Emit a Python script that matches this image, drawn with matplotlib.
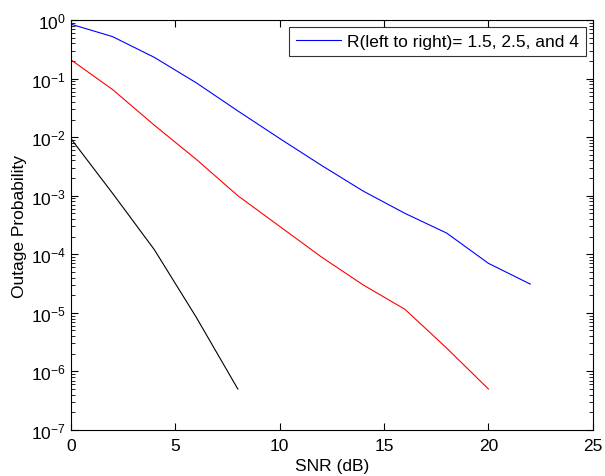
import matplotlib
matplotlib.use('agg')
import matplotlib.pyplot as plt
import numpy as np

snr_blue = [0, 2, 4, 6, 8, 10, 12, 14, 16, 18, 20, 22]
p_blue = [0.85, 0.52, 0.23, 0.085, 0.028, 0.0095, 0.0033, 0.0012, 0.0005, 0.00023, 0.00007, 0.000031]
snr_red = [0, 2, 4, 6, 8, 10, 12, 14, 16, 18, 20]
p_red = [0.21, 0.065, 0.016, 0.0042, 0.001, 0.0003, 0.00009, 0.00003, 0.0000115, 0.0000025, 0.0000005]
snr_black = [0, 2, 4, 6, 8]
p_black = [0.0095, 0.0011, 0.00012, 0.0000085, 0.0000005]

plt.rcParams['font.family'] = ['Liberation Sans', 'DejaVu Sans']
plt.rcParams['font.size'] = 12.5
plt.rcParams['mathtext.fontset'] = 'custom'
plt.rcParams['mathtext.rm'] = 'Liberation Sans'
plt.rcParams['mathtext.it'] = 'Liberation Sans'

fig = plt.figure(figsize=(6.05, 4.77), dpi=100)
ax = fig.add_axes([0.117, 0.0964, 0.863, 0.8596])

ax.semilogy(snr_blue, p_blue, color='blue', lw=0.8, label='R(left to right)= 1.5, 2.5, and 4')
ax.semilogy(snr_red, p_red, color='red', lw=0.8)
ax.semilogy(snr_black, p_black, color='black', lw=0.8)

ax.set_xlim(0, 25)
ax.set_ylim(1e-7, 1)
ax.set_xticks([0, 5, 10, 15, 20, 25])
ax.tick_params(which='both', direction='in', top=True, right=True, labelsize=12.5)
ax.tick_params(which='major', length=5)
ax.tick_params(which='minor', length=3)
ax.tick_params(axis='x', pad=6)
ax.set_xlabel('SNR (dB)', labelpad=3)
ax.set_ylabel('Outage Probability', labelpad=3)
for s in ax.spines.values():
    s.set_linewidth(0.8)

leg = ax.legend(loc='upper right', fancybox=False, edgecolor='black',
                borderaxespad=0.4, handlelength=2.6, borderpad=0.4,
                handletextpad=0.35)
leg.get_frame().set_linewidth(0.8)

fig.savefig('out.png', dpi=100)
